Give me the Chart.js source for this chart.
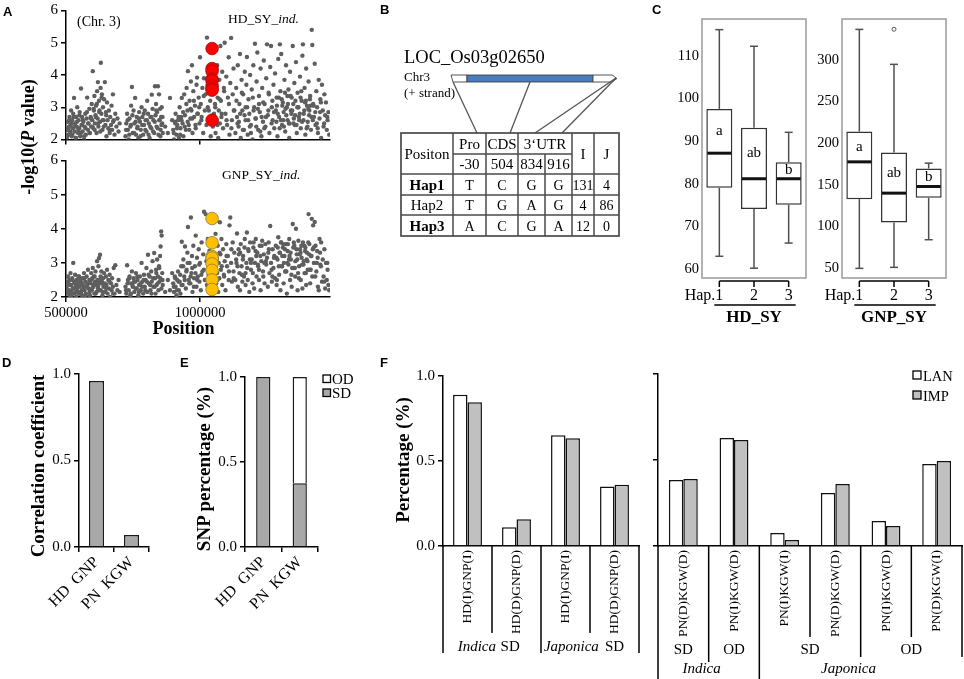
<!DOCTYPE html>
<html>
<head>
<meta charset="utf-8">
<script src="https://cdn.jsdelivr.net/npm/chart.js@4.4.0/dist/chart.umd.min.js"></script>
<style>
  body { margin: 0; background: #fff; }
  #fig { position: relative; width: 964px; height: 679px; overflow: hidden; background: #fff; }
  canvas { position: absolute; }
  #ann { position: absolute; left: 0; top: 0; pointer-events: none; }
</style>
</head>
<body>
<div id="fig">
  <canvas id="aTop"></canvas>
  <canvas id="aBottom"></canvas>
  <canvas id="cHd"></canvas>
  <canvas id="cGnp"></canvas>
  <canvas id="dChart"></canvas>
  <canvas id="eChart"></canvas>
  <canvas id="fLeft"></canvas>
  <canvas id="fRight"></canvas>
  <svg id="ann" width="964" height="679" font-family="Liberation Serif, Times New Roman, serif"></svg>
</div>
<script>
// ---------- data: panel A (positions in kb) ----------
const xTicksKb = [500, 1000];
const geneKb = 1045;
const hdGeneLogP = [4.82, 4.2, 4.12, 3.87, 3.82, 3.66, 3.58, 3.53, 2.6];
const gnpGeneLogP = [4.3, 3.59, 3.19, 3.14, 2.97, 2.78, 2.5, 2.22];

const snpKb = [
  503,505,507,509,511,513,515,517,519,521,523,525,
  527,530,532,534,536,538,540,542,
  545,547,549,551,553,556,558,560,562,
  565,567,569,572,574,577,579,582,584,587,589,592,594,596,598,
  600,602,604,606,608,610,612,614,616,618,619,621,623,625,627,629,630,632,634,636,638,640,642,
  645,647,649,651,653,655,658,660,663,665,668,670,672,675,678,681,684,688,692,696,700,
  722,725,728,731,734,737,740,743,746,749,752,755,758,761,764,767,770,773,776,779,782,785,788,791,794,797,800,803,806,809,812,815,818,
  820,823,826,829,832,834,836,838,840,843,845,847,849,851,853,855,857,859,861,
  870,880,888,896,
  900,903,906,909,912,915,918,921,924,927,930,
  932,935,938,941,944,947,950,953,
  955,958,961,964,966,968,970,972,975,978,981,984,987,989,992,995,998,
  1000,1003,1006,1009,1012,1015,1018,1021,1024,1026,1029,1032,1035,1038,1040,
  1048,1050,1052,1054,1056,1058,1060,1062,1064,1066,1068,1070,1072,1074,1076,1078,1080,
  1083,1086,1089,1092,1095,1098,1101,1104,1107,1110,1113,1116,1119,1122,1125,1128,
  1132,1135,1138,1141,1144,1147,1149,1152,1155,1158,
  1161,1164,1167,1170,1173,1175,1178,1181,1184,1187,
  1190,1193,1196,1199,1202,1205,1208,1211,1214,1217,
  1220,1223,1226,1229,1232,1235,1238,1241,1244,1247,
  1250,1253,1256,1259,1262,1265,1268,1271,1274,1277,
  1280,1283,1286,1289,1292,1295,1298,1300,1303,1306,
  1309,1312,1315,1318,1321,1324,1327,1330,1333,1336,
  1339,1342,1346,1349,1352,1355,1358,1361,1364,1367,
  1370,1373,1376,1379,1382,1384,1387,1390,1393,1396,
  1399,1402,1405,1408,1411,1414,1417,1419,1422,1425,
  1428,1431,1434,1437,1440,1443,1446,1449,1452,1455,
  1458,1461,1464,1467,1470,1473,1476,1479,1482,
  1140,1150,1160,1170,1180,1190,1200,1210,1220,1230,
  1240,1255,1270,1285,1290,1294,1302,1307,1313,1317,
  1322,1328,1332,1338,1344,1350,1356,1360,1366,1372,
  1378,1386,1392,1398,1404,1410,1416,1424,1436,1448,
  504,508,512,516,520,524,528,533,537,541,546,550,555,559,563,568,573,578,583,588,
  593,597,603,607,611,615,620,624,628,633,637,641,650,662,676,
  724,730,736,742,748,754,760,766,772,778,784,790,796,802,808,814,819,825,831,837,
  842,848,852,856,860,
  902,908,914,920,926,931,937,943,949,954,960,965,971,977,983,990,997,1005,1014,1033,
  1049,1057,1065,1073,1081,1090,1099,1108,1117,1126,1136,1145,1156,1166,1176,1186,1197,1207,1216,1225,
  1236,1246,1257,1267,1276,1287,1297,1305,1311,1319,1326,1334,1341,1348,1354,1363,1369,1375,1381,1389,
  1395,1401,1407,1413,1421,1430,1439,1451,1463,1475
];

const hdLogP = [
  2.05,2.3,2.55,2.15,2.4,2.7,2.2,2.45,2.9,2.1,2.6,2.35,
  2.8,3.29,2.25,2.5,2.05,2.7,2.4,3.0,
  2.2,2.6,2.35,2.85,2.1,3.58,2.45,2.7,2.25,
  2.55,2.0,2.4,2.8,2.15,2.65,3.3,2.3,2.5,2.95,2.2,2.7,2.4,3.1,2.6,
  4.12,2.35,2.9,3.35,2.5,2.75,3.05,2.2,3.5,2.65,3.78,2.4,3.2,2.9,2.55,3.6,4.38,2.8,3.4,2.3,3.0,2.6,3.25,
  3.78,2.45,2.85,2.1,3.15,2.6,2.35,2.9,2.2,2.7,2.45,3.05,2.3,3.4,2.6,2.15,2.8,2.4,2.65,2.25,2.5,
  2.1,2.5,2.8,2.3,2.0,2.65,2.4,3.05,3.63,2.2,2.9,2.5,3.29,2.15,2.7,2.4,2.05,2.85,2.55,2.3,3.0,2.7,2.15,2.45,2.9,2.6,2.25,3.2,2.8,2.5,2.05,2.7,2.35,
  3.39,2.95,2.6,2.2,3.65,2.75,3.1,2.4,2.85,3.65,2.15,3.4,2.6,2.95,2.3,2.7,3.0,2.5,2.2,
  2.4,2.2,3.29,2.6,
  2.3,2.0,2.55,2.8,2.15,2.45,2.6,2.05,3.0,2.35,2.7,
  3.29,2.5,2.1,3.4,2.75,2.3,3.6,2.9,
  4.12,2.45,3.2,2.65,3.8,2.9,4.3,2.2,3.5,2.7,3.05,2.35,3.7,3.92,2.8,3.3,2.5,
  4.55,3.1,2.7,3.6,2.2,3.9,2.9,3.4,2.45,5.16,3.0,3.75,2.6,3.2,2.1,
  2.4,3.5,2.8,4.0,3.1,2.2,3.7,2.6,4.3,3.3,2.05,2.9,3.85,2.5,4.9,3.2,2.7,
  4.1,2.35,3.6,5.0,2.8,3.95,2.45,3.3,4.55,2.15,3.75,5.15,2.6,3.4,4.2,2.9,
  2.2,3.6,2.7,4.3,2.4,3.1,4.65,2.05,3.85,2.9,
  3.4,2.3,4.1,2.6,3.7,4.56,2.15,3.25,2.8,4.0,
  2.45,3.55,2.0,4.3,3.0,4.97,2.65,3.8,4.7,2.3,
  3.35,2.85,4.2,2.1,3.6,2.55,4.45,3.1,2.4,3.9,
  4.95,2.75,3.45,2.2,4.25,4.9,3.0,2.6,3.7,2.35,
  4.05,2.9,3.3,2.1,4.5,2.7,4.95,3.5,4.65,2.45,
  3.15,2.85,3.85,2.25,4.3,3.0,2.6,3.55,2.05,4.1,
  2.9,3.3,4.9,2.5,3.75,2.75,4.4,2.2,3.45,3.0,
  2.6,3.95,2.35,3.2,4.6,4.95,2.8,3.6,2.15,4.2,
  3.05,2.55,3.8,2.9,3.35,2.3,5.4,4.93,3.1,2.7,
  4.35,2.45,3.5,3.0,2.2,3.85,2.65,3.25,2.05,3.7,
  2.9,2.4,3.4,2.75,3.15,2.3,2.6,2.85,2.15,
  2.5,2.8,2.3,3.0,2.6,2.2,2.9,2.4,3.1,2.7,
  2.35,2.9,3.2,2.55,2.8,3.3,2.6,3.05,2.4,3.45,
  2.75,3.1,2.5,3.35,2.9,2.65,3.2,2.45,3.0,2.8,
  3.5,2.6,3.15,2.35,2.95,3.25,2.7,3.05,2.5,2.85,
  2.1,2.35,2.6,2.25,2.5,2.15,2.7,2.4,2.05,2.55,2.3,2.75,2.2,2.45,2.6,2.1,2.35,2.85,2.5,2.2,
  2.65,2.4,2.95,2.3,2.7,3.1,2.5,2.85,2.25,3.3,2.6,2.4,2.75,2.3,2.55,
  2.3,2.6,2.15,2.45,2.75,2.2,2.55,2.35,2.65,2.1,2.45,2.8,2.3,2.6,2.15,2.4,2.7,2.25,2.55,2.9,
  2.35,2.6,2.1,2.45,2.7,
  2.2,2.5,2.35,2.7,2.15,2.6,2.85,2.4,3.1,2.55,2.3,2.95,2.65,3.2,2.45,2.8,3.0,2.6,3.35,2.9,
  2.7,3.0,2.45,3.25,2.8,3.5,2.6,3.1,2.35,2.9,3.2,2.55,3.45,2.75,3.0,2.4,3.3,2.65,2.95,2.25,
  3.15,2.7,3.4,2.5,2.85,3.05,2.35,3.25,2.6,2.95,3.35,2.5,2.8,3.1,2.45,3.0,2.7,3.3,2.55,2.9,
  3.2,2.4,2.75,3.05,2.6,2.85,2.35,3.15,2.5,2.7
];

const gnpLogP = [
  2.3,2.1,2.6,2.4,2.2,2.5,2.05,2.7,2.35,2.15,2.55,2.25,
  3.0,2.45,2.1,2.65,2.3,2.0,2.5,2.2,
  2.4,2.1,2.6,2.3,2.5,2.15,2.4,2.05,2.55,
  2.3,2.7,2.2,2.45,2.1,2.6,2.35,2.8,2.25,2.5,2.05,2.4,2.7,2.2,2.55,
  2.85,2.3,2.6,2.1,2.45,2.75,2.35,2.15,3.05,2.5,2.25,2.9,3.14,2.4,3.24,2.6,2.2,2.75,2.45,2.05,2.55,2.3,2.7,
  2.4,2.15,2.6,2.35,2.8,2.1,2.5,2.25,2.65,2.0,2.4,2.2,2.55,2.3,2.85,2.1,2.93,2.35,2.2,2.5,2.15,
  2.3,2.1,2.93,2.5,2.2,2.6,2.05,2.4,2.75,2.3,2.55,2.15,2.45,2.7,2.25,2.5,2.05,2.35,2.6,2.2,3.0,2.45,2.1,2.65,2.3,2.5,2.85,2.15,3.24,2.4,2.6,2.2,2.75,
  2.45,3.05,2.3,3.29,2.55,2.1,2.8,2.35,3.1,2.6,2.2,2.9,2.45,3.2,3.48,3.92,3.8,2.7,2.35,
  2.15,2.5,2.2,2.7,
  2.4,2.15,2.6,2.3,2.05,2.5,2.75,2.2,2.45,2.1,2.9,
  3.62,2.35,3.1,2.6,3.48,2.25,2.8,3.3,
  4.05,2.5,3.0,2.4,4.33,2.7,3.2,2.15,3.5,2.55,2.9,3.8,2.3,3.15,2.6,3.4,2.45,
  3.0,2.2,3.6,2.75,3.25,4.5,2.5,4.43,3.05,2.35,3.7,2.65,3.35,2.2,3.0,
  2.6,3.3,2.2,3.6,2.9,3.85,2.4,3.1,2.7,3.5,2.15,3.0,2.55,4.19,3.25,2.8,3.7,
  2.35,3.4,2.65,3.05,2.2,3.55,2.9,3.2,2.5,4.1,4.33,3.0,2.45,3.6,2.75,3.3,
  2.5,3.1,3.86,2.3,3.4,2.7,2.2,3.55,2.9,2.45,
  3.2,2.6,3.7,2.35,3.0,3.89,2.5,3.35,2.15,3.6,
  2.8,3.1,2.4,3.45,2.25,3.0,3.7,2.6,3.3,2.9,
  2.5,3.5,2.2,3.05,3.65,2.75,3.25,2.4,3.55,2.95,
  3.15,2.3,3.6,2.7,4.08,3.0,2.45,3.4,2.85,3.2,
  2.55,3.5,2.35,3.1,3.75,2.65,3.3,2.2,3.6,2.9,
  3.45,2.4,3.2,2.75,3.55,2.1,3.35,2.95,3.7,2.5,
  3.1,2.3,4.14,2.85,3.5,2.6,4.0,3.25,2.2,3.65,
  2.9,3.4,2.5,3.15,2.25,3.6,3.05,2.7,3.45,2.35,
  3.3,2.8,4.43,3.55,2.4,3.2,4.29,2.6,4.1,3.0,
  4.2,3.5,2.75,3.35,2.3,2.2,3.7,2.95,3.6,2.45,
  3.1,2.6,3.4,2.25,3.0,2.5,2.8,2.35,2.2,
  2.9,3.3,3.1,2.7,3.4,3.0,3.6,3.2,2.8,3.5,
  3.0,3.3,2.6,3.15,3.45,2.9,3.6,3.2,3.0,3.4,
  2.75,3.55,3.1,3.3,2.85,3.6,3.05,3.4,2.7,3.25,
  3.5,2.95,3.35,3.1,3.6,2.8,3.2,3.45,3.0,3.3,
  2.2,2.45,2.1,2.35,2.05,2.5,2.25,2.4,2.15,2.3,2.6,2.1,2.45,2.2,2.35,2.55,2.05,2.3,2.4,2.15,
  2.5,2.25,2.35,2.6,2.1,2.45,2.3,2.2,2.5,2.4,2.15,2.35,2.25,2.45,2.1,
  2.2,2.4,2.55,2.1,2.35,2.45,2.25,2.6,2.15,2.4,2.3,2.5,2.2,2.45,2.65,2.35,2.1,2.55,2.3,2.7,
  2.4,2.85,2.55,2.25,2.5,
  2.3,2.55,2.2,2.45,2.65,2.35,2.9,2.5,2.75,3.0,2.4,2.6,2.85,2.3,2.7,2.5,2.95,2.65,2.8,2.45,
  2.8,3.1,2.5,3.3,2.9,2.6,3.2,2.75,3.4,2.55,3.0,3.25,2.65,3.45,2.85,3.1,2.7,3.35,2.95,3.2,
  2.6,3.05,3.4,2.8,3.15,2.5,3.3,2.9,3.55,2.75,3.0,3.2,2.65,3.45,2.85,3.1,2.55,3.3,2.95,3.5,
  2.7,3.05,3.25,2.8,3.4,2.6,3.15,2.9,2.45,3.0
];

// ---------- data: panel B ----------
const geneName = 'LOC_Os03g02650';
const snpRegions = ['Pro', 'CDS', '3‘UTR'];
const snpSites = ['-30', '504', '834', '916'];
const hapNames = ['Hap1', 'Hap2', 'Hap3'];
const hapAlleles = [['T', 'C', 'G', 'G'], ['T', 'G', 'A', 'G'], ['A', 'C', 'G', 'A']];
const hapIndica = [131, 4, 12];
const hapJaponica = [4, 86, 0];

// ---------- data: panel C ----------
const hapLabels = ['1', '2', '3'];
const sigLetters = ['a', 'ab', 'b'];
const hdMin = [63.0, 60.2, 66.1];
const hdQ1 = [79.1, 74.1, 75.1];
const hdMedian = [87.2, 81.2, 81.2];
const hdQ3 = [97.6, 93.2, 85.1];
const hdMax = [116.2, 112.3, 92.1];
const gnpMin = [49.6, 50.8, 84];
const gnpQ1 = [132.8, 104.8, 134.4];
const gnpMedian = [177.6, 140, 148];
const gnpQ3 = [214, 188.8, 169.6];
const gnpMax = [336.8, 294.8, 176];
const gnpOutliers = [[], [337], []];

// ---------- data: panels D, E ----------
const pairLabels = ['HD  GNP', 'PN  KGW'];
const corrValues = [0.96, 0.07];
const snpSD = [1.0, 0.375];
const snpOD = [0, 0.625];

// ---------- data: panel F ----------
const fLeftLabels = ['HD(I)GNP(I)', 'HD(D)GNP(D)', 'HD(I)GNP(I)', 'HD(D)GNP(D)'];
const fLeftLAN = [0.89, 0.11, 0.651, 0.35];
const fLeftIMP = [0.845, 0.157, 0.634, 0.36];
const fLeftGroups = ['Indica', 'SD', 'Japonica', 'SD'];
const fRightLabels = ['PN(D)KGW(D)', 'PN(I)KGW(D)', 'PN(I)KGW(I)', 'PN(D)KGW(D)', 'PN(I)KGW(D)', 'PN(D)KGW(I)'];
const fRightLAN = [0.384, 0.628, 0.076, 0.308, 0.145, 0.477];
const fRightIMP = [0.39, 0.616, 0.035, 0.36, 0.116, 0.494];
const fRightGroups = ['SD', 'OD', 'SD', 'OD'];
const fRightSpecies = ['Indica', 'Japonica'];

// ---------- common setup ----------
const SERIF = '"Liberation Serif", "Times New Roman", serif';
Chart.defaults.font.family = SERIF;
Chart.defaults.color = '#000';
Chart.defaults.animation = false;
Chart.defaults.events = [];
Chart.defaults.plugins.legend.display = false;
Chart.defaults.plugins.tooltip.enabled = false;

const tickGrid = { drawOnChartArea: false, tickLength: 5, color: '#000', lineWidth: 1.5 };
const axisLine = { color: '#000', width: 1.5 };

function place(id, left, top, width, height) {
    const c = document.getElementById(id);
    c.width = width;
    c.height = height;
    c.style.left = left + 'px';
    c.style.top = top + 'px';
    c.style.width = width + 'px';
    c.style.height = height + 'px';
    return c;
}

// ---------- panel A: Manhattan plots ----------
function manhattan(id, top, height, padTop, xHeight, logP, geneLogP, geneFill, geneEdge, showLabels) {
    return new Chart(place(id, 0, top, 340, height), {
        type: 'scatter',
        data: {
            datasets: [
                {
                    data: geneLogP.map(v => ({ x: geneKb, y: v })),
                    backgroundColor: geneFill, borderColor: geneEdge, borderWidth: 0.8, pointRadius: 6.3
                },
                {
                    data: snpKb.map((kb, i) => ({ x: kb, y: logP[i] })),
                    backgroundColor: '#5e5e5e', borderWidth: 0, pointRadius: 2.2
                }
            ]
        },
        options: {
            responsive: false,
            layout: { padding: { top: padTop, right: 10, left: 0, bottom: 0 } },
            scales: {
                x: {
                    type: 'linear', min: 500, max: 1485,
                    afterBuildTicks: s => { s.ticks = xTicksKb.map(v => ({ value: v })); },
                    ticks: { display: showLabels, font: { size: 14.5, lineHeight: 1 }, padding: 4, callback: v => String(v * 1000) },
                    grid: tickGrid, border: axisLine,
                    afterFit: s => { s.height = xHeight; }
                },
                y: {
                    min: 2, max: 6,
                    ticks: { stepSize: 1, font: { size: 15, lineHeight: 1 }, padding: 3 },
                    grid: tickGrid, border: axisLine,
                    afterFit: s => { s.width = 66; }
                }
            }
        }
    });
}
manhattan('aTop', 0, 150, 7, 6, hdLogP, hdGeneLogP, '#ff0000', '#a01010', false);
manhattan('aBottom', 150, 190, 9, 43, gnpLogP, gnpGeneLogP, '#ffc000', '#8a7a40', true);

// ---------- panel C: box plots ----------
function makeBoxPlugin(st, title) {
    return {
        id: 'boxplot',
        afterDatasetsDraw(chart) {
            const { ctx, chartArea: a, scales: { x, y } } = chart;
            const bars = chart.getDatasetMeta(0).data;
            const seg = (x1, y1, x2, y2) => { ctx.beginPath(); ctx.moveTo(x1, y1); ctx.lineTo(x2, y2); ctx.stroke(); };
            ctx.save();
            ctx.strokeStyle = '#9a9a9a';
            ctx.lineWidth = 1.5;
            ctx.strokeRect(a.left, a.top, a.right - a.left, a.bottom - a.top);
            st.max.forEach((mx, i) => {
                const cx = x.getPixelForValue(i);
                const hw = bars[i].width / 2;
                ctx.strokeStyle = '#505050';
                ctx.lineWidth = 1.5;
                seg(cx, y.getPixelForValue(st.q3[i]), cx, y.getPixelForValue(mx));
                seg(cx, y.getPixelForValue(st.q1[i]), cx, y.getPixelForValue(st.min[i]));
                seg(cx - 4, y.getPixelForValue(mx), cx + 4, y.getPixelForValue(mx));
                seg(cx - 4, y.getPixelForValue(st.min[i]), cx + 4, y.getPixelForValue(st.min[i]));
                ctx.strokeStyle = '#111';
                ctx.lineWidth = 3;
                const ym = y.getPixelForValue(st.median[i]);
                seg(cx - hw + 1, ym, cx + hw - 1, ym);
                ctx.strokeStyle = '#555';
                ctx.lineWidth = 1;
                (st.out[i] || []).forEach(v => {
                    ctx.beginPath(); ctx.arc(cx, y.getPixelForValue(v), 2, 0, Math.PI * 2); ctx.stroke();
                });
                ctx.fillStyle = '#000';
                ctx.font = '15px ' + SERIF;
                ctx.textAlign = 'center';
                ctx.textBaseline = 'middle';
                ctx.fillText(sigLetters[i], cx, y.getPixelForValue((st.q3[i] + st.median[i]) / 2));
            });
            // haplotype axis under the frame
            const x0 = x.getPixelForValue(0), x2 = x.getPixelForValue(2);
            const base = a.bottom + 3;
            ctx.strokeStyle = '#000';
            ctx.lineWidth = 1.5;
            seg(x0, base, x2, base);
            hapLabels.forEach((lab, i) => {
                const cx = x.getPixelForValue(i);
                seg(cx, base, cx, base + 6);
                ctx.font = '16px ' + SERIF;
                ctx.textAlign = 'center';
                ctx.fillText(lab, cx, a.bottom + 18);
                if (i === 0) {
                    ctx.textAlign = 'right';
                    ctx.fillText('Hap.', cx - ctx.measureText(lab).width / 2, a.bottom + 18);
                }
            });
            seg(x0 - 5, a.bottom + 27, x2 + 7, a.bottom + 27);
            ctx.font = 'bold 17px ' + SERIF;
            ctx.textAlign = 'center';
            ctx.fillText(title, x.getPixelForValue(1), a.bottom + 40);
            ctx.restore();
        }
    };
}

function boxChart(id, left, width, yWidth, padRight, yMin, yMax, step, st, title) {
    return new Chart(place(id, left, 0, width, 330), {
        type: 'bar',
        data: {
            labels: hapLabels,
            datasets: [{
                data: st.q1.map((v, i) => [v, st.q3[i]]),
                backgroundColor: '#fff', borderColor: '#333', borderWidth: 1.5,
                borderSkipped: false, barPercentage: 0.75, categoryPercentage: 1
            }]
        },
        options: {
            responsive: false,
            layout: { padding: { top: 19, right: padRight, left: 0, bottom: 52 } },
            scales: {
                x: { display: false },
                y: {
                    min: yMin, max: yMax,
                    ticks: { stepSize: step, includeBounds: false, font: { size: 14.5, lineHeight: 1 }, padding: 3 },
                    grid: { display: false, drawTicks: false }, border: { display: false },
                    afterFit: s => { s.width = yWidth; }
                }
            }
        },
        plugins: [makeBoxPlugin(st, title)]
    });
}
boxChart('cHd', 670, 145, 32, 9, 57.9, 118.7, 10,
    { min: hdMin, q1: hdQ1, median: hdMedian, q3: hdQ3, max: hdMax, out: [] }, 'HD_SY');
boxChart('cGnp', 806, 158, 36, 18, 38, 349.3, 50,
    { min: gnpMin, q1: gnpQ1, median: gnpMedian, q3: gnpQ3, max: gnpMax, out: gnpOutliers }, 'GNP_SY');

// ---------- panels D, E ----------
function smallBarOptions(padTop, padRight, stacked) {
    return {
        responsive: false,
        layout: { padding: { top: padTop, right: padRight, left: 0, bottom: 0 } },
        scales: {
            x: {
                stacked,
                ticks: { minRotation: 45, maxRotation: 45, autoSkip: false, font: { size: 16 }, padding: 1 },
                grid: tickGrid, border: axisLine,
                afterFit: s => { s.height = 132; }
            },
            y: {
                stacked, min: 0, max: 1,
                ticks: { stepSize: 0.5, font: { size: 15, lineHeight: 1 }, padding: 3, callback: v => v.toFixed(1) },
                grid: tickGrid, border: axisLine,
                afterFit: s => { s.width = 79; }
            }
        }
    };
}

new Chart(place('dChart', 0, 350, 165, 329), {
    type: 'bar',
    data: {
        labels: pairLabels,
        datasets: [{ data: corrValues, backgroundColor: '#a8a8a8', borderColor: '#1a1a1a', borderWidth: 1.5, barPercentage: 0.43, categoryPercentage: 1 }]
    },
    options: smallBarOptions(24, 16, false)
});

new Chart(place('eChart', 166, 350, 165, 329), {
    type: 'bar',
    data: {
        labels: pairLabels,
        datasets: [
            { label: 'SD', data: snpSD, backgroundColor: '#a8a8a8', borderColor: '#1a1a1a', borderWidth: 1.5, barPercentage: 0.39, categoryPercentage: 1 },
            { label: 'OD', data: snpOD, backgroundColor: '#fff', borderColor: '#1a1a1a', borderWidth: 1.5, barPercentage: 0.39, categoryPercentage: 1 }
        ]
    },
    options: smallBarOptions(27, 13, true)
});

// ---------- panel F ----------
function makeGroupPlugin(depths, rows) {
    return {
        id: 'groupSeps',
        afterDraw(chart) {
            const { ctx, chartArea, scales: { x } } = chart;
            const base = chartArea.bottom;
            ctx.save();
            ctx.strokeStyle = '#000';
            ctx.lineWidth = 1.5;
            depths.forEach((d, k) => {
                const px = x.getPixelForValue(k - 0.5);
                ctx.beginPath(); ctx.moveTo(px, base); ctx.lineTo(px, base + d); ctx.stroke();
            });
            ctx.fillStyle = '#000';
            ctx.textAlign = 'center';
            ctx.textBaseline = 'middle';
            rows.forEach(r => {
                ctx.font = (r.italic ? 'italic ' : '') + '15px ' + SERIF;
                ctx.fillText(r.text, x.getPixelForValue(r.at), base + r.dy);
            });
            ctx.restore();
        }
    };
}

function fChart(id, left, width, yWidth, padTop, padRight, labels, lan, imp, catPct, showYLabels, depths, rows) {
    return new Chart(place(id, left, 350, width, 329), {
        type: 'bar',
        data: {
            labels,
            datasets: [
                { label: 'LAN', data: lan, backgroundColor: '#fff', borderColor: '#111', borderWidth: 1.5, barPercentage: 1, categoryPercentage: catPct },
                { label: 'IMP', data: imp, backgroundColor: '#c0c0c0', borderColor: '#111', borderWidth: 1.5, barPercentage: 1, categoryPercentage: catPct }
            ]
        },
        options: {
            responsive: false,
            layout: { padding: { top: padTop, right: padRight, left: 0, bottom: 0 } },
            scales: {
                x: {
                    ticks: { minRotation: 90, maxRotation: 90, autoSkip: false, font: { size: 13.5 }, padding: 4 },
                    grid: { display: false, drawTicks: false, tickLength: 0 }, border: axisLine,
                    afterFit: s => { s.height = 133; }
                },
                y: {
                    min: 0, max: 1,
                    ticks: { display: showYLabels, stepSize: 0.5, font: { size: 15, lineHeight: 1 }, padding: 3, callback: v => v.toFixed(1) },
                    grid: tickGrid, border: axisLine,
                    afterFit: s => { s.width = yWidth; }
                }
            }
        },
        plugins: [makeGroupPlugin(depths, rows)]
    });
}

fChart('fLeft', 335, 310, 108, 26, 6, fLeftLabels, fLeftLAN, fLeftIMP, 0.59, true,
    [107, 87, 107, 87, 107],
    [
        { text: fLeftGroups[0], at: 0.19, dy: 101.5, italic: true },
        { text: fLeftGroups[1], at: 0.87, dy: 101.5 },
        { text: fLeftGroups[2], at: 2.12, dy: 101.5, italic: true },
        { text: fLeftGroups[3], at: 3.0, dy: 101.5 }
    ]);
fChart('fRight', 645, 319, 13, 24, 2, fRightLabels, fRightLAN, fRightIMP, 0.57, false,
    [133, 116, 133, 91, 111, 91, 111],
    [
        { text: fRightGroups[0], at: 0, dy: 104 },
        { text: fRightGroups[1], at: 1, dy: 104 },
        { text: fRightGroups[2], at: 2.5, dy: 104 },
        { text: fRightGroups[3], at: 4.5, dy: 104 },
        { text: fRightSpecies[0], at: 0.36, dy: 123, italic: true },
        { text: fRightSpecies[1], at: 3.26, dy: 123, italic: true }
    ]);

// ---------- annotations and panel B (SVG) ----------
const svg = document.getElementById('ann');
function el(tag, attrs, text, parent) {
    const e = document.createElementNS('http://www.w3.org/2000/svg', tag);
    Object.entries(attrs).forEach(([k, v]) => e.setAttribute(k, v));
    if (text !== undefined) e.textContent = text;
    (parent || svg).appendChild(e);
    return e;
}
function txt(x, y, s, size, extra) {
    return el('text', Object.assign({ x, y, 'font-size': size, fill: '#000' }, extra || {}), s);
}
function line(x1, y1, x2, y2, stroke, w) {
    el('line', { x1, y1, x2, y2, stroke, 'stroke-width': w });
}

// panel letters
const sans = { 'font-family': 'Liberation Sans, Arial, sans-serif', 'font-weight': 'bold' };
txt(3, 16, 'A', 13, sans);
txt(380, 14, 'B', 13, sans);
txt(652, 14, 'C', 13, sans);
txt(2, 367, 'D', 13, sans);
txt(180, 367, 'E', 13, sans);
txt(380, 367, 'F', 13, sans);

// panel A texts
txt(77, 26, '(Chr. 3)', 14);
const t1 = txt(228, 23, 'HD_SY_', 13.5);
el('tspan', { 'font-style': 'italic' }, 'ind.', t1);
const t2 = txt(222, 179, 'GNP_SY_', 13.5);
el('tspan', { 'font-style': 'italic' }, 'ind.', t2);
txt(183.5, 334, 'Position', 18, { 'font-weight': 'bold', 'text-anchor': 'middle' });

function yTitle(cx, cy, size, parts) {
    const t = txt(0, 0, '', size, { 'font-weight': 'bold', 'text-anchor': 'middle', 'dominant-baseline': 'central',
        transform: `translate(${cx},${cy}) rotate(-90)` });
    parts.forEach(p => el('tspan', p.italic ? { 'font-style': 'italic' } : {}, p.text, t));
}
yTitle(28, 137, 18, [{ text: '-log10(' }, { text: 'P', italic: true }, { text: ' value)' }]);
yTitle(37, 466, 19, [{ text: 'Correlation coefficient' }]);
yTitle(203, 469, 19, [{ text: 'SNP percentage (%)' }]);
yTitle(402, 460, 19, [{ text: 'Percentage (%)' }]);

// legends
el('rect', { x: 323, y: 375, width: 7.5, height: 7.5, fill: '#fff', stroke: '#000', 'stroke-width': 1.3 });
el('rect', { x: 323, y: 389, width: 7.5, height: 7.5, fill: '#a8a8a8', stroke: '#000', 'stroke-width': 1.3 });
txt(332, 384, 'OD', 15);
txt(332, 398, 'SD', 15);
el('rect', { x: 913, y: 371, width: 8, height: 8, fill: '#fff', stroke: '#000', 'stroke-width': 1.3 });
el('rect', { x: 913, y: 391, width: 8, height: 8, fill: '#c0c0c0', stroke: '#000', 'stroke-width': 1.3 });
txt(923, 380.5, 'LAN', 14.5);
txt(923, 400.5, 'IMP', 14.5);

// panel B: gene model
txt(404, 63, geneName, 18.5);
txt(404, 81, 'Chr3', 13);
txt(404, 97, '(+ strand)', 13);
el('polygon', { points: '451,75 467,75 467,82 453,82', fill: '#fff', stroke: '#555', 'stroke-width': 1 });
el('rect', { x: 467, y: 75, width: 126, height: 7, fill: '#4a7ebb', stroke: '#333', 'stroke-width': 0.8 });
el('polygon', { points: '593,75 612,75 617,78.5 612,82 593,82', fill: '#fff', stroke: '#555', 'stroke-width': 1 });
line(453, 82, 477, 133, '#555', 1.3);
line(530, 82, 510, 133, '#555', 1.3);
line(616, 78, 535, 133, '#555', 1.3);
line(616, 78, 562, 133, '#555', 1.3);

// panel B: haplotype table
const tg = '#4a4a4a';
el('rect', { x: 401, y: 133, width: 218, height: 103, fill: 'none', stroke: tg, 'stroke-width': 1.7 });
line(453, 154, 572, 154, tg, 1.5);
[174, 195, 215].forEach(yy => line(401, yy, 619, yy, tg, 1.5));
[453, 486, 518, 572, 594].forEach(xx => line(xx, 133, xx, 236, tg, 1.5));
line(545, 154, 545, 236, tg, 1.5);
const colX = [469.5, 502, 531.5, 558.5];
const mid = { 'text-anchor': 'middle' };
txt(427, 158.5, 'Positon', 15, mid);
txt(469.5, 148.5, snpRegions[0], 15, mid);
txt(502, 148.5, snpRegions[1], 15, mid);
txt(545, 148.5, snpRegions[2], 15, mid);
txt(583, 158.5, 'I', 15, mid);
txt(606.5, 158.5, 'J', 15, mid);
snpSites.forEach((s, j) => txt(colX[j], 169, s, 15, mid));
const rowBase = [189.5, 210, 230.5];
hapNames.forEach((h, i) => {
    txt(427, rowBase[i], h, 15, Object.assign({ 'font-weight': i === 1 ? 'normal' : 'bold' }, mid));
    hapAlleles[i].forEach((a, j) => txt(colX[j], rowBase[i], a, 14, mid));
    txt(583, rowBase[i], String(hapIndica[i]), 14, mid);
    txt(606.5, rowBase[i], String(hapJaponica[i]), 14, mid);
});
</script>
</body>
</html>
